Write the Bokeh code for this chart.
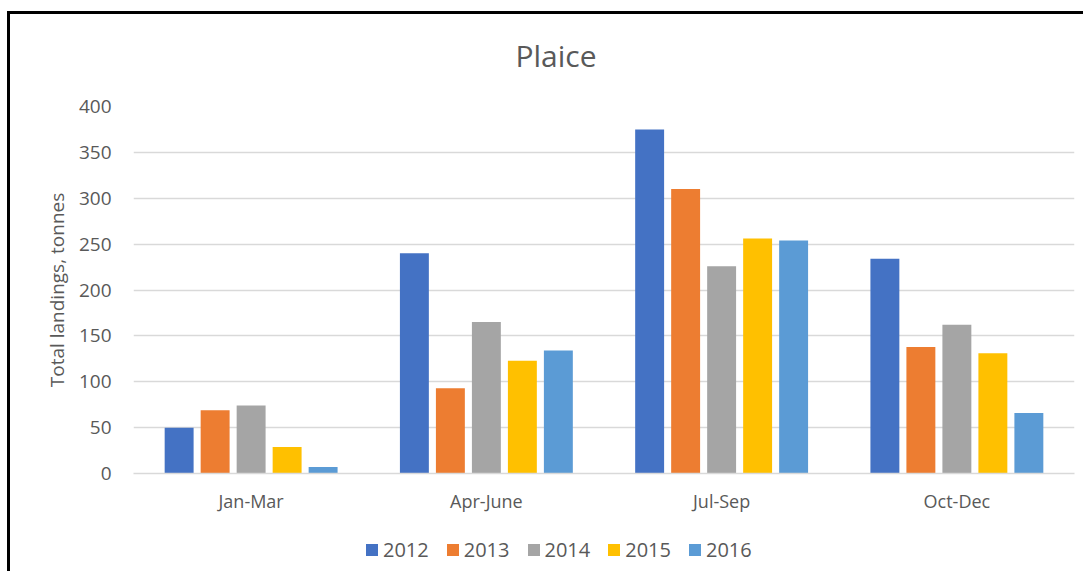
from bokeh.plotting import figure
from bokeh.layouts import column
from bokeh.models import FactorRange, Range1d, FixedTicker, Legend, LegendItem, ColumnDataSource
from bokeh.transform import dodge
from bokeh.embed import file_html
from bokeh.resources import INLINE

quarters = ["Jan-Mar", "Apr-June", "Jul-Sep", "Oct-Dec"]
years = ["2012", "2013", "2014", "2015", "2016"]
v2012 = [50, 240, 375, 234]
v2013 = [69, 93, 310, 138]
v2014 = [74, 165, 226, 162]
v2015 = [29, 123, 256, 131]
v2016 = [7, 134, 254, 66]
y_ticks = [0, 50, 100, 150, 200, 250, 300, 350, 400]
colors = ["#4472C4", "#ED7D31", "#A5A5A5", "#FFC000", "#5B9BD5"]

series = [v2012, v2013, v2014, v2015, v2016]
data = {"q": quarters}
for yr, vals in zip(years, series):
    data[yr] = vals
src = ColumnDataSource(data)

FONT = "Open Sans"
TXT = "#595959"

p = figure(x_range=FactorRange(*quarters, range_padding=0), y_range=Range1d(0, 400),
           width=1083, height=530, output_backend="svg", toolbar_location=None,
           min_border_left=133, min_border_right=9, min_border_top=106, min_border_bottom=57,
           title="Plaice")

p.title.align = "left"
p.title.offset = 382
p.title.text_font = FONT
p.title.text_font_size = "30px"
p.title.text_font_style = "normal"
p.title.text_color = TXT
p.title.standoff = 62

pitch = 0.153
width = 0.123
for i, (yr, c) in enumerate(zip(years, colors)):
    p.vbar(x=dodge("q", (i - 2) * pitch, range=p.x_range), top=yr, width=width,
           source=src, fill_color=c, line_color=None)

p.outline_line_color = None
p.background_fill_color = "white"
p.border_fill_alpha = 0

p.xgrid.grid_line_color = None
p.ygrid.grid_line_color = "#d9d9d9"
p.ygrid.grid_line_width = 1.5

p.yaxis.ticker = FixedTicker(ticks=y_ticks)
p.yaxis.axis_line_color = None
p.yaxis.major_tick_line_color = None
p.yaxis.minor_tick_line_color = None
p.yaxis.major_tick_out = 0
p.yaxis.major_label_standoff = 22
p.yaxis.major_label_text_font = FONT
p.yaxis.major_label_text_font_size = "19px"
p.yaxis.major_label_text_color = TXT
p.yaxis.axis_label = "Total landings, tonnes"
p.yaxis.axis_label_text_font = FONT
p.yaxis.axis_label_text_font_size = "19px"
p.yaxis.axis_label_text_font_style = "normal"
p.yaxis.axis_label_text_color = TXT
p.yaxis.axis_label_standoff = 6

p.xaxis.axis_line_color = "#d9d9d9"
p.xaxis.axis_line_width = 1.5
p.xaxis.major_tick_line_color = None
p.xaxis.minor_tick_line_color = None
p.xaxis.major_tick_out = 0
p.xaxis.major_label_standoff = 15
p.xaxis.major_label_text_font = FONT
p.xaxis.major_label_text_font_size = "18px"
p.xaxis.major_label_text_color = TXT

# legend strip below the chart (proxy renderers are hidden; only the legend shows)
lg = figure(width=1083, height=41, output_backend="svg", toolbar_location=None,
            x_range=Range1d(0, 1), y_range=Range1d(0, 1), min_border=0)
lg.axis.visible = False
lg.grid.grid_line_color = None
lg.outline_line_color = None
lg.background_fill_alpha = 0
lg.border_fill_alpha = 0
proxy = ColumnDataSource(dict(x=[0], top=[0]))
items = []
for yr, c in zip(years, colors):
    r = lg.vbar(x="x", top="top", width=0.1, source=proxy, fill_color=c, line_color=None)
    r.visible = False
    items.append(LegendItem(label=yr, renderers=[r]))
legend = Legend(items=items, orientation="horizontal", location=(231, 8),
                glyph_width=15, glyph_height=15, label_standoff=4, spacing=16,
                label_text_font=FONT, label_text_font_size="20px", label_text_color=TXT,
                border_line_color=None, background_fill_alpha=0, margin=0, padding=0,
                inactive_fill_alpha=0)
lg.add_layout(legend, "center")

layout = column(p, lg, spacing=0)
layout.styles = {"box-shadow": "inset 7px 11px 0 0 white, inset 10px 14px 0 0 black"}

open("out.html", "w").write(file_html(layout, INLINE))
